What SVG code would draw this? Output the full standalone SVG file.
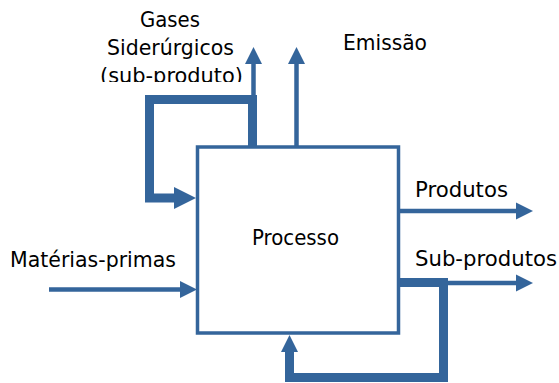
<svg xmlns="http://www.w3.org/2000/svg" width="559" height="383" viewBox="0 0 559 383">
  <style>
    .lbl { font-family: "DejaVu Sans", Verdana, sans-serif; font-size: 21.5px; fill: #000; }
    .thin { fill: none; stroke: #34659b; stroke-width: 4.5; }
    .thick { fill: none; stroke: #34659b; stroke-width: 9; stroke-linejoin: miter; }
    .box { fill: #fff; stroke: #34659b; stroke-width: 3.5; }
  </style>
  <defs>
    <marker id="ah" markerUnits="userSpaceOnUse" markerWidth="18" markerHeight="18" refX="0" refY="8.5" orient="auto" overflow="visible">
      <path d="M0,0 L17,8.5 L0,17 Z" fill="#34659b"/>
    </marker>
    <marker id="ahBig" markerUnits="userSpaceOnUse" markerWidth="24" markerHeight="24" refX="0" refY="11" orient="auto" overflow="visible">
      <path d="M0,0 L22,11 L0,22 Z" fill="#34659b"/>
    </marker>
    <clipPath id="clipSub">
      <rect x="0" y="0" width="559" height="82"/>
    </clipPath>
  </defs>

  <g id="connectors">
    <path class="thick" d="M252.5,148 V99.5 H149.5 V198 H174" marker-end="url(#ahBig)"/>
    <path class="thin" d="M253.5,104 V64" marker-end="url(#ah)"/>
    <path class="thin" d="M296.5,147 V64" marker-end="url(#ah)"/>
    <path class="thin" d="M399,211 H516" marker-end="url(#ah)"/>
    <path class="thin" d="M440,283 H516" marker-end="url(#ah)"/>
    <path class="thick" d="M399,282.5 H443.5 V377.5 H289.5 V352" marker-end="url(#ah)"/>
    <path class="thin" d="M49,289.5 H180" marker-end="url(#ah)"/>
  </g>

  <g id="processo">
    <rect class="box" x="197.5" y="147" width="201" height="186"/>
    <text class="lbl" x="252" y="245" textLength="87" lengthAdjust="spacingAndGlyphs">Processo</text>
  </g>

  <g id="gases">
    <text class="lbl" x="140" y="27" textLength="60" lengthAdjust="spacingAndGlyphs">Gases</text>
    <text class="lbl" x="107" y="55" textLength="127" lengthAdjust="spacingAndGlyphs">Siderúrgicos</text>
    <text class="lbl" x="100" y="83" textLength="143" lengthAdjust="spacingAndGlyphs" clip-path="url(#clipSub)">(sub-produto)</text>
  </g>

  <g id="emissao">
    <text class="lbl" x="343" y="50" textLength="84" lengthAdjust="spacingAndGlyphs">Emissão</text>
  </g>

  <g id="produtos">
    <text class="lbl" x="415" y="197" textLength="93" lengthAdjust="spacingAndGlyphs">Produtos</text>
  </g>

  <g id="subprodutos">
    <text class="lbl" x="415" y="266" textLength="142" lengthAdjust="spacingAndGlyphs">Sub-produtos</text>
  </g>

  <g id="materias">
    <text class="lbl" x="10" y="267" textLength="166" lengthAdjust="spacingAndGlyphs">Matérias-primas</text>
  </g>
</svg>
